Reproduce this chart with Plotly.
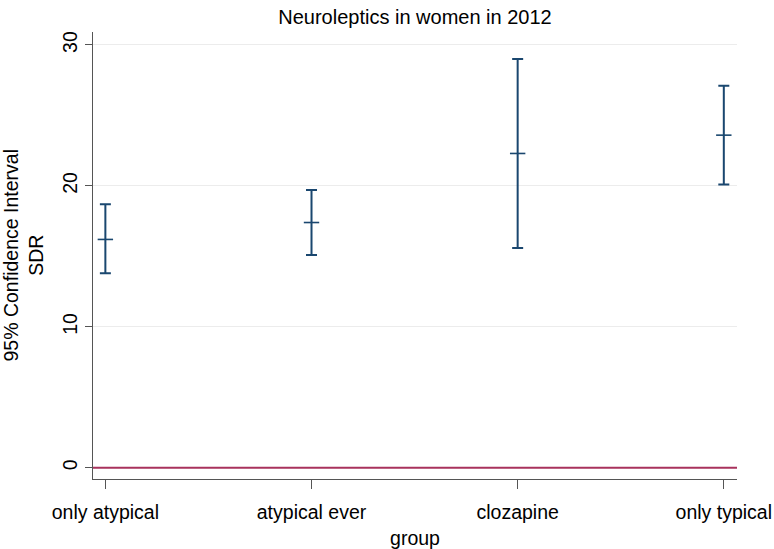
import plotly.graph_objects as go

groups = ["only atypical", "atypical ever", "clozapine", "only typical"]
sdr_mean = [16.2, 17.4, 22.3, 23.6]
ci_lower = [13.8, 15.1, 15.6, 20.1]
ci_upper = [18.7, 19.7, 29.0, 27.1]
y_ticks = [0, 10, 20, 30]

navy = "#1a476f"
font_family = "Liberation Sans, Arial, sans-serif"

W, H = 774, 549

x_pos = list(range(len(groups)))
err_plus = [u - m for u, m in zip(ci_upper, sdr_mean)]
err_minus = [m - l for m, l in zip(sdr_mean, ci_lower)]

fig = go.Figure()
fig.add_trace(go.Scatter(
    x=x_pos, y=sdr_mean, mode="markers",
    marker=dict(symbol="line-ew", size=11, color=navy,
                line=dict(color=navy, width=1.6)),
    error_y=dict(type="data", symmetric=False, array=err_plus, arrayminus=err_minus,
                 color=navy, thickness=2, width=5.5),
    showlegend=False, hoverinfo="skip",
))

fig.add_shape(type="line", xref="paper", yref="y", x0=0, x1=1, y0=0, y1=0,
              line=dict(color="#a8325c", width=2))

fig.update_layout(
    width=W, height=H,
    margin=dict(l=93, r=37, t=32, b=70, autoexpand=False),
    paper_bgcolor="white", plot_bgcolor="white",
    font=dict(family=font_family, size=19.5, color="black"),
    title=dict(text="Neuroleptics in women in 2012", x=0.5, xref="paper",
               y=1 - 17 / H, yref="container", yanchor="middle",
               font=dict(size=20, color="black")),
    xaxis=dict(range=[-0.06, 3.064], tickvals=x_pos, ticktext=groups,
               ticks="outside", ticklen=9, tickcolor="#555", tickwidth=1.2,
               showline=True, linecolor="#555", linewidth=1.2, showgrid=False,
               zeroline=False, automargin=False, ticklabeloverflow="allow",
               ticklabelstandoff=6,
               title=dict(text="group", standoff=14, font=dict(size=19.5))),
    yaxis=dict(range=[-0.8, 30.92], tickvals=y_ticks,
               ticks="outside", ticklen=7, tickcolor="#555", tickwidth=1.2,
               tickangle=-90, showline=True, linecolor="#555", linewidth=1.2,
               showgrid=True, gridcolor="#ececec", gridwidth=1, zeroline=False,
               automargin=False),
    annotations=[dict(text="95% Confidence Interval<br>SDR", xref="paper", yref="paper",
                      x=0, y=0.5, xanchor="center", yanchor="middle", xshift=-70,
                      textangle=-90, showarrow=False, font=dict(size=19.5))],
)

fig.write_html("out.html", config={"displayModeBar": False},
               post_script="document.body.style.margin='0';")
